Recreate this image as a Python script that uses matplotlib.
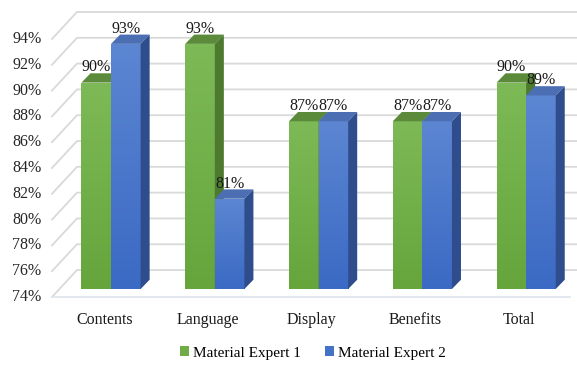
import numpy as np
import matplotlib.pyplot as plt
from matplotlib.patches import Polygon, Patch
from matplotlib.colors import LinearSegmentedColormap

categories = ['Contents', 'Language', 'Display', 'Benefits', 'Total']
expert1 = [90, 93, 87, 87, 90]
expert2 = [93, 81, 87, 87, 89]
series_names = ['Material Expert 1', 'Material Expert 2']
y_ticks = [74, 76, 78, 80, 82, 84, 86, 88, 90, 92, 94]

plt.rcParams['font.family'] = ['Liberation Serif', 'DejaVu Serif']

fig = plt.figure(figsize=(5.77, 3.65), dpi=100)
ax = fig.add_axes([0, 0, 1, 1])
ax.axis('off')

base = 74
w = 0.285          # bar width
ddx, ddy = 0.087, 0.72   # bar depth
front_dx, front_dy = -0.569, -0.62   # floor front edge
back_dx, back_dy = -0.328, 1.47      # back wall
right_front, right_back = 4.424, 4.6
grid_col = '#d9d9d9'

# walls / gridlines
for t in y_ticks:
    ax.plot([front_dx, back_dx, right_back], [t + front_dy, t + back_dy, t + back_dy],
            color=grid_col, lw=1.3, zorder=1, solid_joinstyle='miter')
    ax.text(front_dx - 0.1, t + front_dy, f'{t}%', ha='right', va='center',
            fontsize=11.5, color='#262626')
ax.plot([front_dx, right_front], [base + front_dy, base + front_dy],
        color='#dfe6ee', lw=1.3, zorder=1)

styles = [
    {'front': '#70ad47', 'grad': ['#7dba57', '#66a53c'], 'top': '#5a8a3a', 'side': '#4d7a2f'},
    {'front': '#4472c4', 'grad': ['#5c86d2', '#3b6ac4'], 'top': '#4b6fb2', 'side': '#2f4d8c'},
]
grad = np.linspace(0, 1, 64).reshape(-1, 1)

def draw_bar(x0, v, st, z):
    x1 = x0 + w
    bars = ax.bar(x0, v - base, width=w, bottom=base, align='edge', color=st['front'],
                  edgecolor='none', zorder=z)
    cmap = LinearSegmentedColormap.from_list('g', st['grad'])
    im = ax.imshow(grad, cmap=cmap, extent=(x0, x1, base, v), aspect='auto',
                   origin='upper', zorder=z + 0.1)
    im.set_clip_path(bars[0])
    ax.add_patch(Polygon([(x0, v), (x1, v), (x1 + ddx, v + ddy), (x0 + ddx, v + ddy)],
                         closed=True, facecolor=st['top'], edgecolor='none', zorder=z + 0.2))
    ax.add_patch(Polygon([(x1, base), (x1 + ddx, base + ddy), (x1 + ddx, v + ddy), (x1, v)],
                         closed=True, facecolor=st['side'], edgecolor='none', zorder=z + 0.2))

for i in range(len(categories)):
    for j, vals in enumerate([expert1, expert2]):
        x0 = i - w + j * w
        draw_bar(x0, vals[i], styles[j], 2 + j)
    for j, vals in enumerate([expert1, expert2]):
        x0 = i - w + j * w
        ax.text(x0 + w / 2, vals[i] + 0.55, f'{vals[i]}%', ha='center', va='bottom',
                fontsize=11.5, color='#1a1a1a', zorder=6)
    ax.text(i - 0.065, 71.6, categories[i], ha='center', va='center',
            fontsize=11.5, color='#1a1a1a')

ax.set_xlim(-1.07, 4.49)
ax.set_ylim(68.11, 96.40)

handles = [Patch(facecolor=styles[0]['front']), Patch(facecolor=styles[1]['front'])]
fig.legend(handles, series_names, loc='center', bbox_to_anchor=(0.542, 0.033),
           ncol=2, frameon=False, fontsize=11, handlelength=0.6, handleheight=0.6,
           handletextpad=0.25, columnspacing=1.6)

fig.savefig('out.png', dpi=100)
